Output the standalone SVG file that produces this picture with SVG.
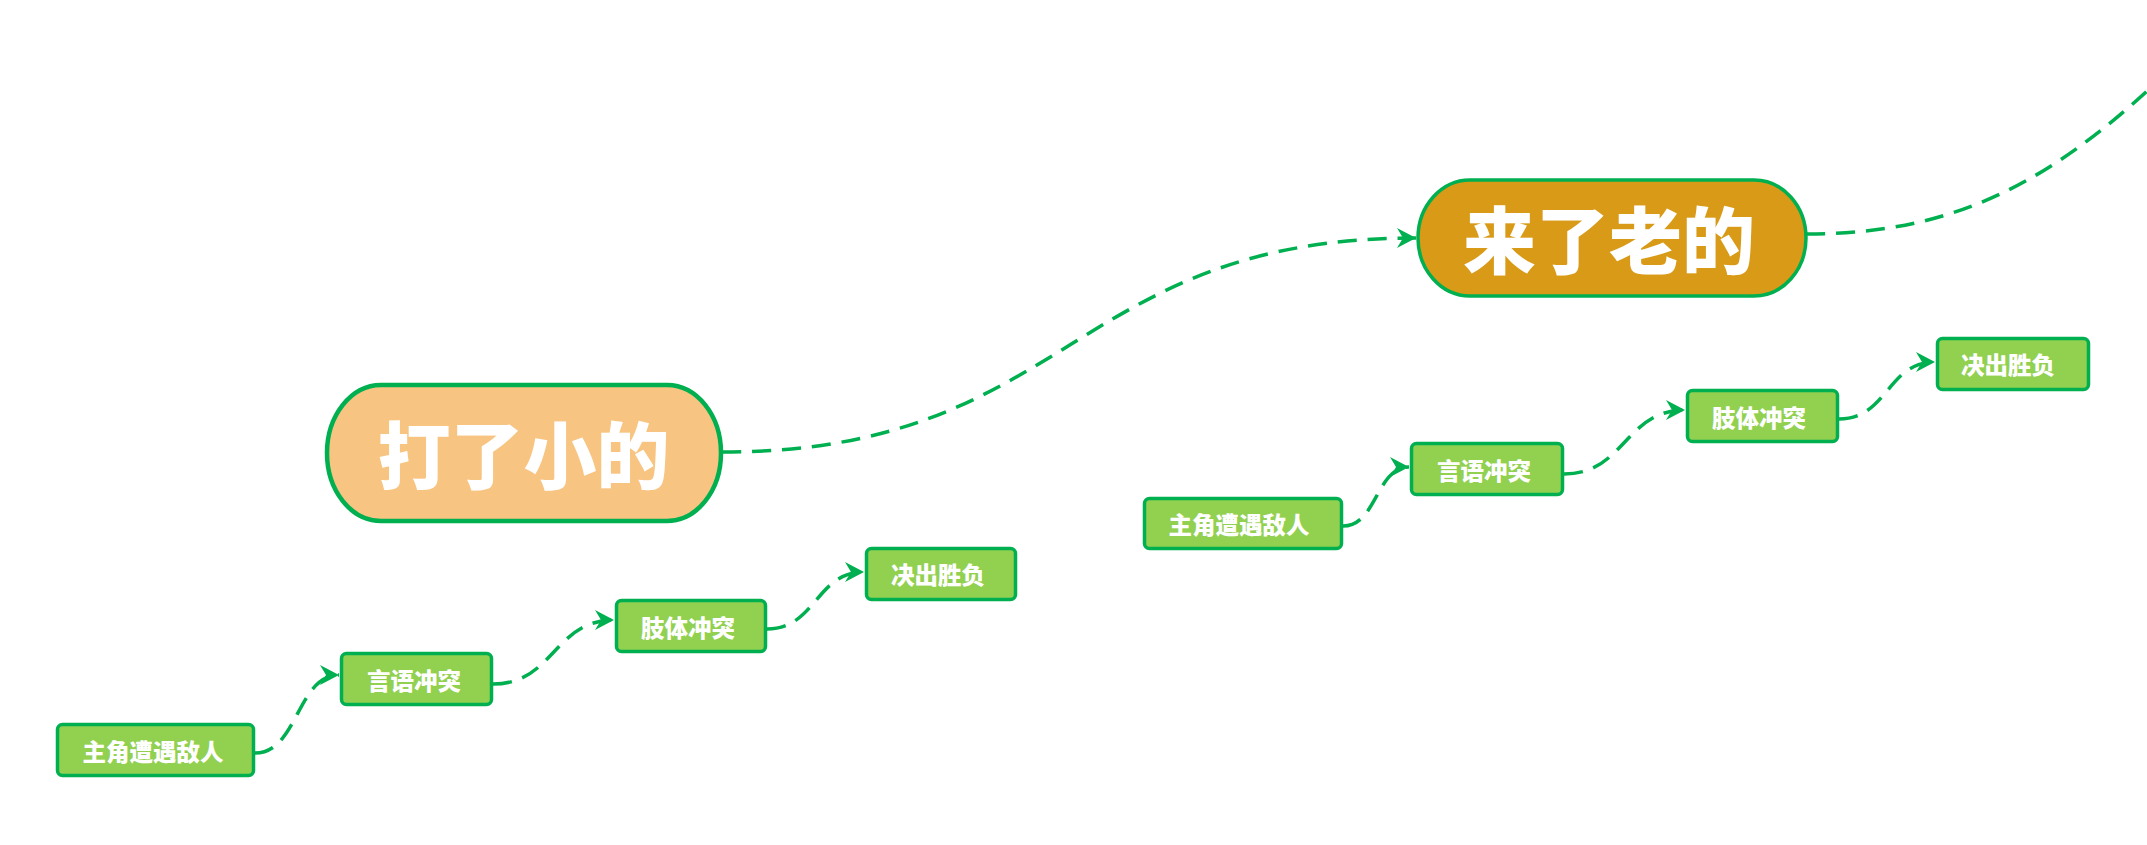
<svg xmlns="http://www.w3.org/2000/svg" width="2147" height="845" viewBox="0 0 2147 845">
<style>
.conn{fill:none;stroke:#00B050;stroke-width:3.5;stroke-dasharray:19 11}
.big{stroke:#00B050}
.sm{fill:#92D050;stroke:#00B050;stroke-width:3.5}
.t{font-family:'Noto Sans CJK SC','Noto Sans CJK JP',sans-serif;font-weight:700;fill:#FFFFFF;text-anchor:middle}
.ts{font-size:23.5px;font-weight:900}
.tb{font-size:73px;font-weight:900}
</style>
<defs>
<marker id="arr" markerUnits="userSpaceOnUse" markerWidth="24" markerHeight="24" viewBox="0 0 24 24" refX="20" refY="12" orient="auto">
<path d="M1,2 L20,12 L1,22 L7,12 Z" fill="#00B050"/>
</marker>
</defs>
<rect width="2147" height="845" fill="#FFFFFF"/>
<g id="connectors">
<path class="conn" d="M722,452 C1070,452 1070,238 1416,238" marker-end="url(#arr)"/>
<path class="conn" d="M1806,234 C1960,234 2060,180 2190,50"/>
<path class="conn" d="M255,753 C298,753 297,675 339,675" marker-end="url(#arr)"/>
<path class="conn" d="M493,684 C554,684 554,620 614,620" marker-end="url(#arr)"/>
<path class="conn" d="M767,629 C816,629 816,572 864,572" marker-end="url(#arr)"/>
<path class="conn" d="M1343,526 C1377,526 1376,467 1409,467" marker-end="url(#arr)"/>
<path class="conn" d="M1564,474 C1625,474 1625,410 1685,410" marker-end="url(#arr)"/>
<path class="conn" d="M1839,419 C1888,419 1887,362 1935,362" marker-end="url(#arr)"/>
</g>
<g id="node-big1">
<rect class="big" x="327" y="385" width="394" height="136" rx="54" ry="68" fill="#F8C482" stroke-width="4.5"/>
<text class="t tb" x="523.5" y="483">打了小的</text>
</g>
<g id="node-big2">
<rect class="big" x="1418" y="180" width="388" height="116" rx="52" ry="58" fill="#D89A17" stroke-width="3.5"/>
<text class="t tb" x="1609" y="268">来了老的</text>
</g>
<g id="node-l1">
<rect class="sm" x="57.5" y="724.5" width="196" height="51" rx="5"/>
<text class="t ts" x="153" y="761">主角遭遇敌人</text>
</g>
<g id="node-l2">
<rect class="sm" x="341.5" y="653.5" width="150" height="51" rx="5"/>
<text class="t ts" x="414" y="690">言语冲突</text>
</g>
<g id="node-l3">
<rect class="sm" x="616.5" y="600.5" width="149" height="51" rx="5"/>
<text class="t ts" x="688" y="637">肢体冲突</text>
</g>
<g id="node-l4">
<rect class="sm" x="866.5" y="548.5" width="149" height="51" rx="5"/>
<text class="t ts" x="938" y="584">决出胜负</text>
</g>
<g id="node-r1">
<rect class="sm" x="1144.5" y="498.5" width="197" height="50" rx="5"/>
<text class="t ts" x="1239" y="534">主角遭遇敌人</text>
</g>
<g id="node-r2">
<rect class="sm" x="1411.5" y="443.5" width="151" height="51" rx="5"/>
<text class="t ts" x="1484" y="480">言语冲突</text>
</g>
<g id="node-r3">
<rect class="sm" x="1687.5" y="390.5" width="150" height="51" rx="5"/>
<text class="t ts" x="1759" y="427">肢体冲突</text>
</g>
<g id="node-r4">
<rect class="sm" x="1937.5" y="338.5" width="151" height="51" rx="5"/>
<text class="t ts" x="2008" y="374">决出胜负</text>
</g>
</svg>
